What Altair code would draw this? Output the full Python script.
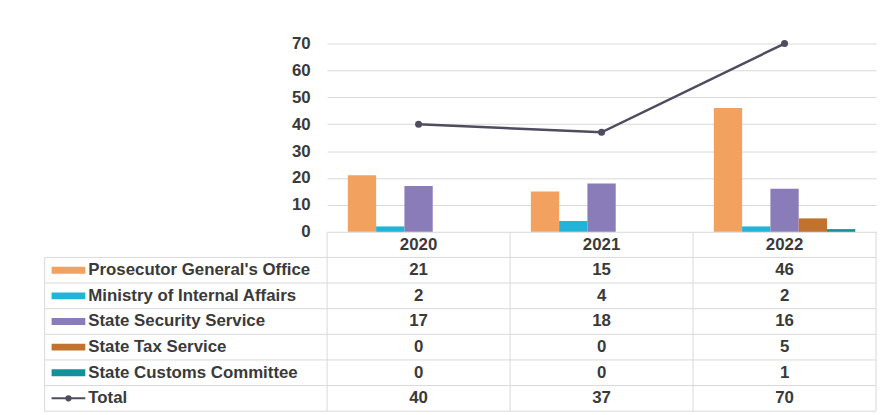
import altair as alt
import pandas as pd

# ---------------- data ----------------
years = ["2020", "2021", "2022"]
agencies = [
    "Prosecutor General's Office",
    "Ministry of Internal Affairs",
    "State Security Service",
    "State Tax Service",
    "State Customs Committee",
]
prosecutor = [21, 15, 46]
internal_affairs = [2, 4, 2]
security = [17, 18, 16]
tax = [0, 0, 5]
customs = [0, 0, 1]
total = [40, 37, 70]
total_label = "Total"
y_ticks = [0, 10, 20, 30, 40, 50, 60, 70]

# ---------------- style ----------------
colors = ["#F2A15F", "#1FB4D8", "#8A7CB8", "#C0722E", "#14909A"]
line_color = "#4E4C5E"
grid_color = "#D9D9D9"
text_color = "#3A3A3A"
FONT = "Liberation Sans"
FS = 17

W, H = 554, 190
TABLE_TOP, TABLE_BOTTOM = 190, 371
HEADER = " "
row_domain = [HEADER] + agencies + [total_label]
ROW_H = (TABLE_BOTTOM - TABLE_TOP) / len(row_domain)
LEFT = -285

series = [prosecutor, internal_affairs, security, tax, customs]
bars_df = pd.DataFrame(
    [{"year": y, "agency": a, "value": s[i]} for a, s in zip(agencies, series) for i, y in enumerate(years)]
)
total_df = pd.DataFrame({"year": years, "value": total})

cells = [{"row": HEADER, "year": y, "txt": y} for y in years]
for a, s in zip(agencies, series):
    cells += [{"row": a, "year": y, "txt": str(s[i])} for i, y in enumerate(years)]
cells += [{"row": total_label, "year": y, "txt": str(total[i])} for i, y in enumerate(years)]
cells_df = pd.DataFrame(cells)
rows_df = pd.DataFrame({"row": row_domain})
label_df = pd.DataFrame({"row": agencies + [total_label]})
agency_rows_df = pd.DataFrame({"row": agencies})
total_row_df = pd.DataFrame({"row": [total_label]})
years_df = pd.DataFrame({"year": years})
last_year_df = pd.DataFrame({"year": [years[-1]]})

# ---------------- encodings ----------------
x_scale = alt.Scale(domain=years, paddingInner=0, paddingOuter=0)
X = alt.X("year:N", sort=years, scale=x_scale, axis=None)
color_scale = alt.Scale(domain=agencies, range=colors)
row_scale = alt.Scale(type="band", domain=row_domain, range=[TABLE_TOP, TABLE_BOTTOM],
                      paddingInner=0, paddingOuter=0)
Yrow = alt.Y("row:N", scale=row_scale, axis=None)
Yrow_bottom = alt.Y("row:N", bandPosition=1, scale=row_scale, axis=None)
y_scale = alt.Scale(domain=[0, 70], nice=False)
y_axis = alt.Axis(orient="left", values=y_ticks, tickCount=8, labelOverlap=False,
                  grid=True, gridColor=grid_color, gridWidth=1,
                  domain=False, ticks=False, labelPadding=17, title=None,
                  labelFont=FONT, labelFontSize=FS, labelFontWeight="bold",
                  labelColor=text_color)

bars = alt.Chart(bars_df).mark_bar().encode(
    x=X,
    xOffset=alt.XOffset("agency:N", sort=agencies,
                        scale=alt.Scale(domain=agencies, paddingInner=0, paddingOuter=0.734)),
    y=alt.Y("value:Q", scale=y_scale, axis=y_axis),
    color=alt.Color("agency:N", scale=color_scale, legend=None),
)

line = alt.Chart(total_df).mark_line(
    color=line_color, strokeWidth=2.5,
    point=alt.OverlayMarkDef(color=line_color, size=50, filled=True, opacity=1),
).encode(
    x=X,
    y=alt.Y("value:Q", scale=y_scale, axis=y_axis),
)

top = alt.layer(bars, line)

text_kw = dict(font=FONT, fontSize=FS, fontWeight="bold", color=text_color, baseline="middle")

cell_text = alt.Chart(cells_df).mark_text(align="center", **text_kw).encode(
    x=X, y=Yrow, text="txt:N"
)
row_labels = alt.Chart(label_df).mark_text(align="left", **text_kw).encode(
    x=alt.value(LEFT + 44), y=Yrow, text="row:N"
)
swatches = alt.Chart(agency_rows_df).mark_rule(strokeWidth=7).encode(
    x=alt.value(LEFT + 7), x2=alt.value(LEFT + 41), y=Yrow,
    color=alt.Color("row:N", scale=color_scale, legend=None),
)
total_sw_line = alt.Chart(total_row_df).mark_rule(strokeWidth=2, color=line_color).encode(
    x=alt.value(LEFT + 7), x2=alt.value(LEFT + 41), y=Yrow
)
total_sw_pt = alt.Chart(total_row_df).mark_point(filled=True, size=40, color=line_color, opacity=1).encode(
    x=alt.value(LEFT + 24), y=Yrow
)
h_lines = alt.Chart(rows_df).mark_rule(color=grid_color, strokeWidth=1).encode(
    x=alt.value(LEFT), x2=alt.value(W), y=Yrow_bottom
)
v_lines = alt.Chart(years_df).mark_rule(color=grid_color, strokeWidth=1).encode(
    x=alt.X("year:N", bandPosition=0, sort=years, scale=x_scale, axis=None),
    y=alt.value(TABLE_TOP), y2=alt.value(TABLE_BOTTOM),
)
v_right = alt.Chart(last_year_df).mark_rule(color=grid_color, strokeWidth=1).encode(
    x=alt.X("year:N", bandPosition=1, sort=years, scale=x_scale, axis=None),
    y=alt.value(TABLE_TOP), y2=alt.value(TABLE_BOTTOM),
)
v_left = alt.Chart(rows_df.head(1)).mark_rule(color=grid_color, strokeWidth=1).encode(
    x=alt.value(LEFT), y=alt.value(TABLE_TOP + ROW_H), y2=alt.value(TABLE_BOTTOM)
)

table = alt.layer(h_lines, v_lines, v_right, v_left, swatches, total_sw_line, total_sw_pt,
                  row_labels, cell_text)

chart = (
    alt.layer(top, table)
    .resolve_scale(y="independent")
    .resolve_axis(y="independent")
    .properties(
        width=W, height=H,
        padding={"left": 322, "top": 34, "right": 6, "bottom": 183},
        autosize=alt.AutoSizeParams(type="none"),
        background="white",
    )
    .configure_view(stroke=None)
)

chart.save("out.html", embed_options={"renderer": "svg", "actions": False})
